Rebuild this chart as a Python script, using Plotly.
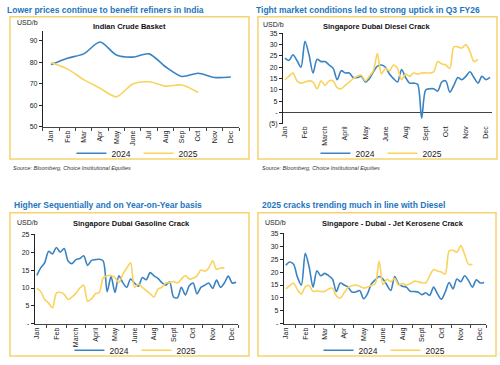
import plotly.graph_objects as go

# ---------------- DATA ----------------
crude_months = ["Jan", "Feb", "Mar", "Apr", "May", "June", "Jul", "Aug", "Sep", "Oct", "Nov", "Dec"]
crude_2024 = [79, 82, 84, 89.5, 83.5, 82.5, 84, 78, 73.5, 75, 73, 73.2]
crude_2025 = [80, 77, 72, 68, 64, 70, 71, 69, 69.5, 66]

diesel_labels = ["Jan", "Feb", "March", "April", "May", "June", "Aug", "Sept", "Oct", "Nov", "Dec"]
diesel_2024 = [24, 23, 25.5, 23, 20, 31.5, 25.5, 17.5, 23.5, 22.5, 22.5, 21, 19.5, 14.5, 18.5, 17.5,
               17.5, 15.5, 15.5, 16, 13.5, 15, 18, 20.5, 21, 20, 17, 15, 13.5, 19, 15.5, 13,
               13, 12.5, -2.5, 10, 10.5, 10.5, 9.5, 13.5, 14, 9, 12, 15.5, 14.5, 16, 18, 15.5,
               13, 16, 14.5, 15.5]
diesel_2025 = [14.5, 16, 17.5, 14, 13, 13.5, 14, 13.5, 10.5, 14, 12, 14, 14, 11, 10.5, 12,
               13.5, 15, 16, 16.5, 14, 16, 18.5, 26, 17, 19.5, 18.5, 21, 19.5, 14.5, 17, 16,
               17.5, 17, 17.5, 17.5, 17.5, 18, 22.5, 21.5, 21, 19.5, 29, 29, 28.5, 30, 27, 22.5,
               23.5]

gasoline_labels = ["Jan", "Feb", "March", "April", "May", "June", "Aug", "Sept", "Oct", "Nov", "Dec"]
gasoline_2024 = [13.5, 15.6, 17, 20.2, 19.5, 21.3, 20, 21, 17.5, 16.8, 17.9, 18.2, 19, 16.3, 17.7, 17.9,
                 18, 17.5, 9, 13.2, 8.8, 13.4, 11.5, 10.2, 12.5, 11.4, 10.5, 12.9, 12.3, 14.3, 13.4, 12.7,
                 11.5, 10.8, 11.7, 7.5, 7.3, 10.2, 8.1, 10.6, 11.4, 8.4, 10.2, 10.8, 11.4, 9.9, 12.2, 10.2,
                 11.4, 13.3, 11.4, 11.6]
gasoline_2025 = [10, 9, 6.8, 5.8, 4.5, 8.6, 8.8, 8.2, 6.8, 7.5, 8.5, 10, 10.8, 6.3, 7, 8.4,
                 8.8, 12.9, 13.4, 13.5, 12.9, 11.5, 13.8, 15.5, 17, 10.2, 11.1, 10.2, 9.3, 8.4, 7.5, 9.7,
                 10.2, 11.4, 11.5, 11.8, 11.4, 12.5, 13.5, 12.5, 12.7, 13.4, 15, 14.7, 15.6, 17.6, 15.2, 15.6,
                 15.6]

jet_labels = ["Jan", "Feb", "Mar", "Apr", "May", "June", "Aug", "Sept", "Oct", "Nov", "Dec"]
jet_2024 = [22.6, 23.9, 23, 18, 15, 27.2, 22, 14.2, 20.5, 18.6, 19.5, 18.6, 17.3, 12.5, 15.8, 15,
            14.2, 12.3, 12.3, 12.9, 9.7, 11.6, 15.4, 17, 18.3, 17.3, 15, 12.9, 18.3, 15.4, 14.5, 14.2,
            12.6, 12.5, 12.3, 11.3, 12, 11, 14.2, 11.6, 9.5, 12.3, 16, 13.5, 17.3, 16.3, 18.6, 16.7,
            14.2, 17, 15.8, 16]
jet_2025 = [13.5, 14.8, 15.7, 13.2, 11.6, 14.3, 14.8, 12.5, 12.8, 12.5, 12.5, 13.5, 13.8, 10.8, 10, 12,
            14, 14.7, 15, 14.5, 13.8, 14.2, 14.9, 15.5, 24.3, 15.2, 17.2, 16.3, 17.6, 15, 15.6, 15,
            15.5, 16.5, 16.3, 15.9, 15.9, 18.5, 21, 20.4, 20, 19.3, 28.1, 28.4, 27.7, 30.2, 26.8, 23,
            23]

headlines = ["Lower prices continue to benefit refiners in India",
             "Tight market conditions led to strong uptick in Q3 FY26",
             "Higher Sequentially and on Year-on-Year basis",
             "2025 cracks trending much in line with Diesel"]
chart_titles = ["Indian Crude Basket", "Singapore Dubai Diesel Crack",
                "Singapore Dubai Gasoline Crack", "Singapore - Dubai - Jet Kerosene Crack"]
source_text = "Source: Bloomberg, Choice Institutional Equities"
series_names = ["2024", "2025"]

# ---------------- STYLE ----------------
W, H = 500, 365
BLUE = "#3A83C3"
YELLOW = "#F9D35B"
HEAD_BLUE = "#2475C0"
BOX = "#F6D36E"
FONT = "Liberation Sans"


def px(x):
    return x / W


def py(y):
    return 1 - y / H


fig = go.Figure()

LINE_W = 1.6


def add_pair(xs24, ys24, xs25, ys25, n, legend_name):
    xa = "x" if n == 1 else f"x{n}"
    ya = "y" if n == 1 else f"y{n}"
    fig.add_trace(go.Scatter(x=xs24, y=ys24, mode="lines", name=series_names[0],
                             line=dict(color=BLUE, width=LINE_W, shape="spline", smoothing=0.8),
                             xaxis=xa, yaxis=ya, legend=legend_name))
    fig.add_trace(go.Scatter(x=xs25, y=ys25, mode="lines", name=series_names[1],
                             line=dict(color=YELLOW, width=LINE_W, shape="spline", smoothing=0.8),
                             xaxis=xa, yaxis=ya, legend=legend_name))


add_pair(crude_months, crude_2024, crude_months[:len(crude_2025)], crude_2025, 1, "legend")
add_pair(list(range(len(diesel_2024))), diesel_2024, list(range(len(diesel_2025))), diesel_2025, 2, "legend2")
add_pair(list(range(len(gasoline_2024))), gasoline_2024, list(range(len(gasoline_2025))), gasoline_2025, 3, "legend3")
add_pair(list(range(len(jet_2024))), jet_2024, list(range(len(jet_2025))), jet_2025, 4, "legend4")

tickfont = dict(family=FONT, size=7, color="#222")

# panel geometry in pixels: (x0, x1, ytop, ybottom)
geo = {1: (41, 238, 28, 126), 2: (282, 492, 30, 123), 3: (33, 237, 236, 328), 4: (283, 486, 235, 328)}


def dom(n):
    x0, x1, yt, yb = geo[n]
    return [px(x0), px(x1)], [py(yb), py(yt)]


weekly_ticks = [5 * i for i in range(11)]
weekly_minor = [5 * i + 2.5 for i in range(10)] + [51.5]

layout = dict(
    width=W, height=H, margin=dict(l=0, r=0, t=0, b=0),
    paper_bgcolor="white", plot_bgcolor="white",
    font=dict(family=FONT, color="#222"),
)

# Panel 1
xd, yd = dom(1)
layout["xaxis"] = dict(domain=xd, anchor="y", type="category", range=[-0.5, 11.5],
                       tickangle=-90, tickfont=tickfont, showline=True, linecolor="#444",
                       linewidth=1, ticks="outside", ticklen=3, tickcolor="#444",
                       tickson="boundaries", showgrid=False, zeroline=False)
layout["yaxis"] = dict(domain=yd, anchor="x", range=[50, 94.5], tickvals=[50, 60, 70, 80, 90],
                       tickfont=tickfont, showline=True, linecolor="#222", linewidth=1,
                       ticks="outside", ticklen=3, tickcolor="#222", showgrid=False, zeroline=False)

# Panel 2 (axis line at zero)
xd, yd = dom(2)
layout["xaxis2"] = dict(domain=xd, anchor="y2", range=[-0.5, 51.5], tickvals=weekly_ticks,
                        ticktext=diesel_labels, tickangle=-90, tickfont=tickfont, showline=False,
                        ticks="", showgrid=False, zeroline=False)
layout["yaxis2"] = dict(domain=yd, anchor="x2", range=[-5, 35],
                        tickvals=[-5, 0, 5, 10, 15, 20, 25, 30, 35],
                        ticktext=["(5)", "-", "5", "10", "15", "20", "25", "30", "35"],
                        tickfont=tickfont, showline=True, linecolor="#222", linewidth=1,
                        ticks="outside", ticklen=3, tickcolor="#222", showgrid=False,
                        zeroline=True, zerolinecolor="#444", zerolinewidth=1)

for n, labels in ((3, gasoline_labels), (4, jet_labels)):
    xd, yd = dom(n)
    top = 25 if n == 3 else 35
    layout[f"xaxis{n}"] = dict(domain=xd, anchor=f"y{n}", range=[-0.5, 51.5], tickvals=weekly_ticks,
                               ticktext=labels, tickangle=-90, tickfont=tickfont, showline=True,
                               linecolor="#444", linewidth=1, ticks="",
                               minor=dict(tickvals=weekly_minor, ticks="outside", ticklen=3,
                                          tickcolor="#444"),
                               showgrid=False, zeroline=False)
    vals = list(range(0, top + 1, 5))
    layout[f"yaxis{n}"] = dict(domain=yd, anchor=f"x{n}", range=[0, top], tickvals=vals,
                               ticktext=["-"] + [str(v) for v in vals[1:]],
                               tickfont=tickfont, showline=True, linecolor="#222", linewidth=1,
                               ticks="outside", ticklen=3, tickcolor="#222", showgrid=False,
                               zeroline=False)

# legends
legend_pos = {"legend": (137, 153), "legend2": (382, 153), "legend3": (135, 355), "legend4": (385, 355)}
for key, (lx, ly) in legend_pos.items():
    layout[key] = dict(orientation="h", x=px(lx), y=py(ly), xanchor="center", yanchor="middle",
                       font=dict(family=FONT, size=8.5, color="#222"), bgcolor="rgba(0,0,0,0)",
                       itemwidth=30, tracegroupgap=0, entrywidth=22)

fig.update_layout(**layout)

# boxes
boxes = [(8, 13, 248, 159), (257, 13, 497, 159), (8, 214, 248, 361), (257, 214, 496, 361)]
for x0, y0, x1, y1 in boxes:
    fig.add_shape(type="rect", xref="paper", yref="paper", x0=px(x0), x1=px(x1), y0=py(y1), y1=py(y0),
                  line=dict(color=BOX, width=1.5), fillcolor="rgba(0,0,0,0)", layer="below")

# headlines
head_pos = [(3, 6), (253, 6), (10, 206), (259, 206)]
for (hx, hy), t in zip(head_pos, headlines):
    fig.add_annotation(text=f"<b>{t}</b>", x=px(hx), y=py(hy), xref="paper", yref="paper",
                       xanchor="left", yanchor="middle", showarrow=False,
                       font=dict(family=FONT, size=8.5, color=HEAD_BLUE))

# chart titles
title_pos = [(128, 23), (377, 23), (130, 225), (393, 225)]
for (tx, ty), t in zip(title_pos, chart_titles):
    fig.add_annotation(text=f"<b>{t}</b>", x=px(tx), y=py(ty), xref="paper", yref="paper",
                       xanchor="center", yanchor="middle", showarrow=False,
                       font=dict(family=FONT, size=7.5, color="#111"))

# unit labels
unit_pos = [(13, 19), (260, 21), (13, 224), (262, 224)]
for ux, uy in unit_pos:
    fig.add_annotation(text="USD/b", x=px(ux), y=py(uy), xref="paper", yref="paper",
                       xanchor="left", yanchor="middle", showarrow=False,
                       font=dict(family=FONT, size=7, color="#222"))

# sources
for sx in (9, 259):
    fig.add_annotation(text=f"<i>{source_text}</i>", x=px(sx), y=py(168), xref="paper", yref="paper",
                       xanchor="left", yanchor="middle", showarrow=False,
                       font=dict(family=FONT, size=5.5, color="#333"))

fig.write_html("out.html", config={"displayModeBar": False},
               post_script="document.body.style.margin='0';")
